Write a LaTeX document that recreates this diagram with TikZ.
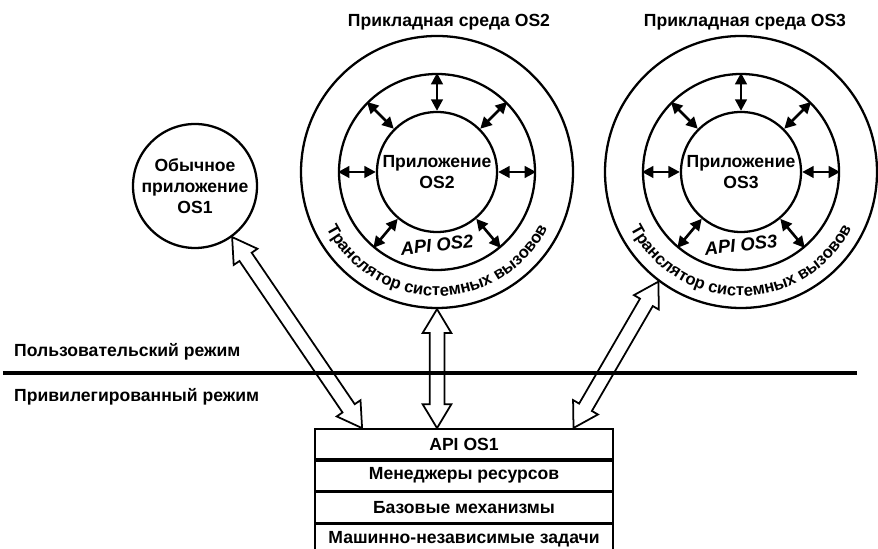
\documentclass[tikz,border=0pt]{standalone}
\usepackage{fontspec}
\setmainfont{Liberation Sans}
\usepackage{tikz}
\usetikzlibrary{arrows.meta, positioning, calc, shapes.arrows, decorations.text}

\tikzset{
  ring/.style={draw, circle, line width=1.3pt, inner sep=0pt},
  dart/.style={line width=1.5pt, {Triangle[length=6.5pt,width=6.5pt]}-{Triangle[length=6.5pt,width=6.5pt]}},
  hollow/.style={draw, double arrow, line width=1pt, inner sep=0pt, inner ysep=0.13cm,
    double arrow head extend=0.14cm, double arrow tip angle=62},
  lbl/.style={font=\fontsize{10}{12}\selectfont\bfseries},
  layer/.style={draw, line width=1pt, minimum width=5.96cm, minimum height=0.6cm, inner sep=0pt, lbl},
}

% hollow two-way arrow between two named points
\newcommand{\hollowlink}[2]{%
  \path let \p1=($(#2)-(#1)$), \n1={veclen(\x1,\y1)}, \n2={atan2(\y1,\x1)} in
    node[hollow, minimum height=\n1, rotate=\n2] at ($(#1)!0.5!(#2)$) {};}

\begin{document}
\begin{tikzpicture}
  \useasboundingbox (0,0) rectangle (17.56,10.98);

  % Ordinary OS1 application
  \node[ring, minimum size=2.48cm, align=center, lbl] (os1) at (3.9,7.26) {Обычное\\приложение\\OS1};

  % Application environment OS2
  \coordinate (c2) at (8.74,7.54);
  \node[ring, minimum size=5.44cm] (env2) at (c2) {};
  \node[ring, minimum size=3.92cm] (api2) at (c2) {};
  \node[ring, minimum size=2.4cm, align=center, lbl] (app2) at (c2) {Приложение\\OS2};
  \foreach \a in {0,45,90,135,180,230,310}
    \draw[dart] (app2.\a) -- (api2.\a);
  \node[font=\fontsize{10.5}{12}\selectfont\bfseries\itshape, rotate=6] (apitxt2) at ($(c2)+(0,-1.46)$) {API OS2};
  \path[decorate, decoration={text along path, text align=center,
    text={|\fontsize{9.5}{11}\selectfont\bfseries|Транслятор системных вызовов}}]
    ($(c2)+(195:2.48)$) arc[start angle=195, end angle=345, radius=2.48];
  \node[lbl] (title2) at (8.98,10.54) {Прикладная среда OS2};

  % Application environment OS3
  \coordinate (c3) at (14.82,7.54);
  \node[ring, minimum size=5.44cm] (env3) at (c3) {};
  \node[ring, minimum size=3.92cm] (api3) at (c3) {};
  \node[ring, minimum size=2.4cm, align=center, lbl] (app3) at (c3) {Приложение\\OS3};
  \foreach \a in {0,45,90,135,180,230,310}
    \draw[dart] (app3.\a) -- (api3.\a);
  \node[font=\fontsize{10.5}{12}\selectfont\bfseries\itshape, rotate=6] (apitxt3) at ($(c3)+(0,-1.46)$) {API OS3};
  \path[decorate, decoration={text along path, text align=center,
    text={|\fontsize{9.5}{11}\selectfont\bfseries|Транслятор системных вызовов}}]
    ($(c3)+(195:2.48)$) arc[start angle=195, end angle=345, radius=2.48];
  \node[lbl] (title3) at (14.9,10.54) {Прикладная среда OS3};

  % Mode boundary
  \coordinate (bl) at (0.06,3.52);
  \coordinate (br) at (17.14,3.52);
  \draw[line width=1.8pt] (bl) -- (br);
  \node[lbl, anchor=west] (user) at (0.16,3.94) {Пользовательский режим};
  \node[lbl, anchor=west] (priv) at (0.16,3.04) {Привилегированный режим};

  % OS1 layers
  \node[layer] (api1) at (9.28,2.1) {API OS1};
  \node[layer, below=0pt of api1] (mgr) {Менеджеры ресурсов};
  \node[layer, below=0pt of mgr] (base) {Базовые механизмы};
  \node[layer, below=0pt of base] (indep) {Машинно-независимые задачи};

  % Calls into OS1
  \coordinate (t1) at ($(api1.north west)!0.16!(api1.north east)$);
  \coordinate (t2) at (env2.south |- api1.north);
  \coordinate (t3) at ($(api1.north west)!0.865!(api1.north east)$);
  \hollowlink{os1.-54}{t1}
  \hollowlink{env2.south}{t2}
  \hollowlink{env3.233}{t3}
\end{tikzpicture}
\end{document}
